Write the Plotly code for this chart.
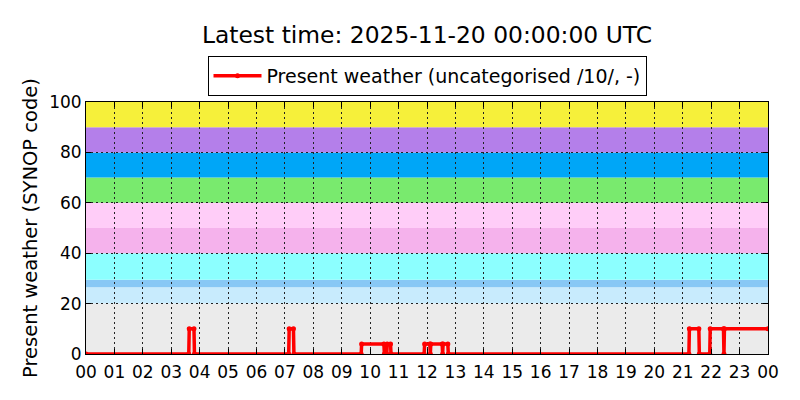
import plotly.graph_objects as go

# ---- data -------------------------------------------------------------
obs_times = [
    "2025-11-19 00:00",
    "2025-11-19 03:37", "2025-11-19 03:38", "2025-11-19 03:48", "2025-11-19 03:49",
    "2025-11-19 07:08", "2025-11-19 07:09", "2025-11-19 07:18", "2025-11-19 07:19",
    "2025-11-19 09:41", "2025-11-19 09:42", "2025-11-19 10:29", "2025-11-19 10:30",
    "2025-11-19 10:35", "2025-11-19 10:36", "2025-11-19 10:43", "2025-11-19 10:44",
    "2025-11-19 11:54", "2025-11-19 11:55", "2025-11-19 12:06", "2025-11-19 12:07",
    "2025-11-19 12:08", "2025-11-19 12:32", "2025-11-19 12:33", "2025-11-19 12:34",
    "2025-11-19 12:44", "2025-11-19 12:45",
    "2025-11-19 21:13", "2025-11-19 21:14", "2025-11-19 21:34", "2025-11-19 21:35",
    "2025-11-19 21:57", "2025-11-19 21:58", "2025-11-19 22:26", "2025-11-19 22:27",
    "2025-11-19 22:28",
    "2025-11-20 00:00",
]
present_weather = [
    0,
    0, 10, 10, 0,
    0, 10, 10, 0,
    0, 4, 4, 0,
    0, 4, 4, 0,
    0, 4, 4, 0,
    4, 4, 0, 4,
    4, 0,
    0, 10, 10, 0,
    0, 10, 10, 0,
    10,
    10,
]

# SYNOP code category bands (lower, upper, colour)
band_lower = [0, 20, 26.5, 29.5, 40, 50, 60, 70, 80, 90]
band_upper = [20, 26.5, 29.5, 40, 50, 60, 70, 80, 90, 100]
band_colors = ["#ebebeb", "#c8ebfd", "#88c8f5", "#8cffff", "#f5b2ec",
               "#ffcdf8", "#79ea6e", "#00a6f7", "#b47fea", "#f6f03a"]

x_start = "2025-11-19 00:00"
x_end = "2025-11-20 00:00"
y_ticks = [0, 20, 40, 60, 80, 100]

title_text = "Latest time: 2025-11-20 00:00:00 UTC"
series_name = "Present weather (uncategorised /10/, -)"
y_title = "Present weather (SYNOP code)"

# ---- figure -------------------------------------------------------------
FONT = "DejaVu Sans"
# the page body has an 8px default margin, so the figure is 8px smaller
W, H = 792, 392
ML, MR, MT, MB = 78, 32, 94, 46
PLOT_H = H - MT - MB

fig = go.Figure()

for lo, hi, col in zip(band_lower, band_upper, band_colors):
    fig.add_shape(type="rect", xref="paper", yref="y", x0=0, x1=1, y0=lo, y1=hi,
                  fillcolor=col, line_width=0, layer="below")

fig.add_trace(go.Scatter(
    x=obs_times, y=present_weather, mode="lines+markers", name=series_name,
    line=dict(color="#ff0000", width=3.5),
    marker=dict(color="#ff0000", size=5),
    showlegend=True,
))

fig.update_layout(
    width=W, height=H,
    paper_bgcolor="white", plot_bgcolor="white",
    margin=dict(l=ML, r=MR, t=MT, b=MB, autoexpand=False),
    font=dict(family=FONT, color="black", size=17),
    title=dict(text=title_text, xref="paper", x=0.5, xanchor="center", y=1 - 27 / H,
               yanchor="middle", font=dict(size=23.4, family=FONT, color="black")),
    showlegend=True,
    legend=dict(x=0.5, xanchor="center", y=1 + (MT - 48) / PLOT_H, yanchor="top",
                orientation="h", bgcolor="white", bordercolor="black", borderwidth=1,
                itemwidth=48,
                font=dict(size=19, family=FONT, color="black")),
)

grid_dash = "1.5px,3.5px"
fig.update_xaxes(
    type="date", range=[x_start, x_end], tickformat="%H", dtick=3600000,
    tick0=x_start, showgrid=True, gridcolor="#222222", griddash=grid_dash, gridwidth=1,
    ticks="inside", ticklen=5, tickcolor="black", showline=True, linecolor="black",
    linewidth=1, mirror="ticks", tickfont=dict(size=17, family=FONT),
    ticklabelstandoff=3, zeroline=False, automargin=False,
)
fig.update_yaxes(
    range=[0, 100], tickvals=y_ticks, showgrid=True, gridcolor="#222222",
    griddash=grid_dash, gridwidth=1, ticks="inside", ticklen=5, tickcolor="black",
    showline=True, linecolor="black", linewidth=1, mirror="ticks",
    tickfont=dict(size=17, family=FONT), zeroline=False, automargin=False,
    title=dict(text=y_title, font=dict(size=19.5, family=FONT), standoff=6),
)

fig.write_html("out.html")
